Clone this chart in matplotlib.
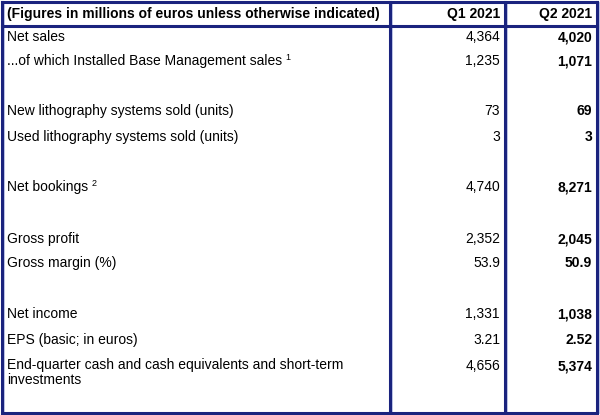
import matplotlib.pyplot as plt

labels = ["Net sales", "...of which Installed Base Management sales",
          "New lithography systems sold (units)", "Used lithography systems sold (units)",
          "Net bookings", "Gross profit", "Gross margin (%)",
          "Net income", "EPS (basic; in euros)",
          "End-quarter cash and cash equivalents and short-term\ninvestments"]
notes = ["", "1", "", "", "2", "", "", "", "", ""]
q1 = ["4,364", "1,235", "73", "3", "4,740", "2,352", "53.9", "1,331", "3.21", "4,656"]
q2 = ["4,020", "1,071", "69", "3", "8,271", "2,045", "50.9", "1,038", "2.52", "5,374"]
row_y = [37, 61, 111, 137, 187, 239, 263, 314, 340, 366]

fig = plt.figure(figsize=(6, 4.15), dpi=100)
ax = fig.add_axes([0, 0, 1, 1])
ax.set_xlim(0, 600)
ax.set_ylim(415, 0)
ax.axis('off')

navy = '#1a237e'
fs = 10
ff = 'Liberation Sans'
for x in [2, 390, 505, 597]:
    ax.plot([x, x], [2, 413], color=navy, lw=2.2)
    ax.plot([x + 2, x + 2], [2, 413], color='#b0b8e0', lw=0.6)
for y in [2, 26, 413]:
    ax.plot([2, 597], [y, y], color=navy, lw=2.2)

ax.text(7, 14, "(Figures in millions of euros unless otherwise indicated)",
        fontsize=fs, fontweight='bold', va='center', family=ff)
ax.text(500, 14, "Q1 2021", fontsize=fs, fontweight='bold', va='center', ha='right', family=ff)
ax.text(592, 14, "Q2 2021", fontsize=fs, fontweight='bold', va='center', ha='right', family=ff)

fig.canvas.draw()
r = fig.canvas.get_renderer()
for lab, n, a, b, y in zip(labels, notes, q1, q2, row_y):
    t = ax.text(7, y, lab, fontsize=fs, va='top' if '\n' in lab else 'center',
                family=ff, linespacing=1.05)
    if '\n' in lab:
        t.set_y(y - 8)
    if n:
        bb = t.get_window_extent(r)
        ax.text(7 + bb.width + 3, y - 4, n, fontsize=6.5, va='center', family=ff)
    ax.text(500, y, a, fontsize=fs, va='center', ha='right', family=ff)
    ax.text(592, y, b, fontsize=fs, va='center', ha='right', fontweight='bold', family=ff)

fig.savefig('out.png', dpi=100)
